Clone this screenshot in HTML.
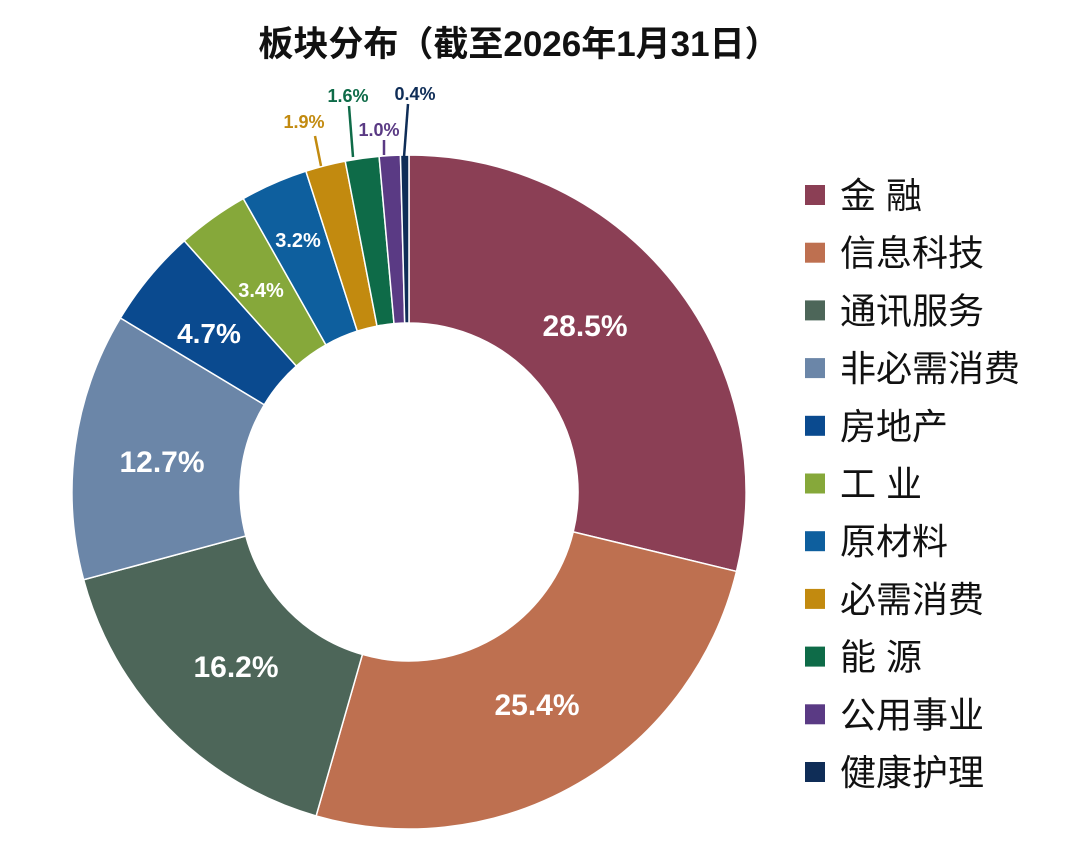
<!DOCTYPE html>
<html><head><meta charset="utf-8"><style>
body{margin:0;background:#fff;}
svg text{font-family:"Liberation Sans","Noto Sans CJK SC",sans-serif;}
</style></head><body>
<svg id="s" width="1080" height="854" xmlns="http://www.w3.org/2000/svg">
<text x="519" y="56" text-anchor="middle" font-size="35" font-weight="bold" fill="#111">板块分布（截至2026年1月31日）</text>
<g id="pie"></g>
<g font-weight="bold" fill="#fff" text-anchor="middle">
<text x="585" y="336" font-size="30">28.5%</text>
<text x="537" y="715" font-size="30">25.4%</text>
<text x="236" y="677" font-size="30">16.2%</text>
<text x="162" y="472" font-size="30">12.7%</text>
<text x="209" y="343" font-size="28">4.7%</text>
<text x="261" y="297" font-size="20">3.4%</text>
<text x="298" y="247" font-size="20">3.2%</text>
</g>
<g font-weight="bold" font-size="18" text-anchor="middle">
<text x="304" y="128" fill="#C28A0F">1.9%</text>
<text x="348" y="102" fill="#0E6B48">1.6%</text>
<text x="379" y="136" fill="#5A3A84">1.0%</text>
<text x="415" y="100" fill="#0F2D57">0.4%</text>
</g>
<g stroke-width="2.5">
<line x1="315" y1="136" x2="321" y2="166" stroke="#C28A0F"/>
<line x1="349" y1="106" x2="353" y2="157" stroke="#0E6B48"/>
<line x1="384" y1="140" x2="384" y2="155" stroke="#5A3A84"/>
<line x1="408" y1="104" x2="404" y2="157" stroke="#0F2D57"/>
</g>
<g id="leg" font-size="36" fill="#111"></g>
</svg>
<script>
var d=[["金 融",28.5,"#8B3F55"],["信息科技",25.4,"#BE7050"],["通讯服务",16.2,"#4D6659"],["非必需消费",12.7,"#6B86A8"],["房地产",4.7,"#0A4A8F"],["工 业",3.4,"#86A83A"],["原材料",3.2,"#0E5F9E"],["必需消费",1.9,"#C28A0F"],["能 源",1.6,"#0E6B48"],["公用事业",1.0,"#5A3A84"],["健康护理",0.4,"#0F2D57"]];
var cx=409,cy=492,R=337,r=169,tot=0;d.forEach(function(e){tot+=e[1]});
var a=0,h="",l="";
function p(rad,ang){return [cx+rad*Math.sin(ang),cy-rad*Math.cos(ang)];}
d.forEach(function(e,i){
var a0=a/tot*2*Math.PI;a+=e[1];var a1=a/tot*2*Math.PI;var lg=(a1-a0)>Math.PI?1:0;
var A=p(R,a0),B=p(R,a1),C=p(r,a1),D=p(r,a0);
h+='<path d="M'+A+' A'+R+','+R+' 0 '+lg+' 1 '+B+' L'+C+' A'+r+','+r+' 0 '+lg+' 0 '+D+'Z" fill="'+e[2]+'" stroke="#fff" stroke-width="1.5"/>';
var y=195+i*57.7;
l+='<rect x="805" y="'+(y-10)+'" width="20" height="20" fill="'+e[2]+'"/><text x="840" y="'+(y+13)+'">'+e[0]+'</text>';
});
document.getElementById("pie").innerHTML=h;document.getElementById("leg").innerHTML=l;
</script>
</body></html>
